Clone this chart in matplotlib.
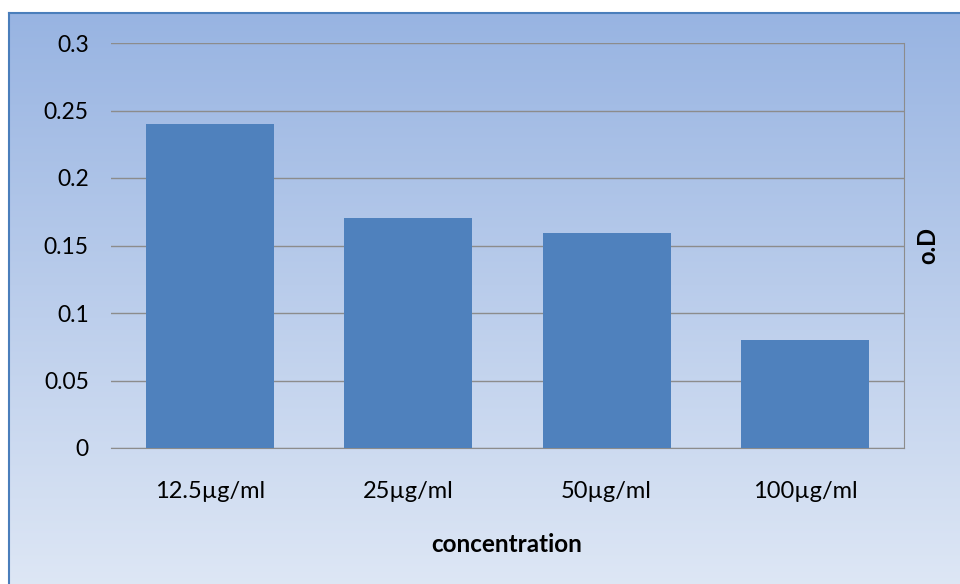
import numpy as np
from matplotlib import pyplot as plt

categories = ["12.5µg/ml", "25µg/ml", "50µg/ml", "100µg/ml"]
od_values = [0.24, 0.17, 0.159, 0.08]
yticks = [0, 0.05, 0.1, 0.15, 0.2, 0.25, 0.3]
ytick_labels = ["0", "0.05", "0.1", "0.15", "0.2", "0.25", "0.3"]

plt.rcParams['font.family'] = ['Lato', 'DejaVu Sans']

W, H = 960, 584
fig = plt.figure(figsize=(W / 100, H / 100), dpi=100)
fig.patch.set_facecolor("white")

# gradient background of the chart frame
bg = fig.add_axes([9 / W, -0.01, 1 - 9 / W + 0.01, 1 - 13 / H + 0.01])
top = np.array([152, 180, 226]) / 255
bot = np.array([222, 231, 245]) / 255
t = np.linspace(0, 1, 256)[:, None]
grad = (top * (1 - t) + bot * t)[:, None, :]
bg.imshow(grad, aspect="auto", extent=[0, 1, 0, 1])
bg.set_xticks([])
bg.set_yticks([])
for s in ["right", "bottom"]:
    bg.spines[s].set_visible(False)
for s in ["left", "top"]:
    bg.spines[s].set_color("#4a7ebb")
    bg.spines[s].set_linewidth(1.5)
bg.set_zorder(-1)

ax = fig.add_axes([111 / W, 1 - 448 / H, (904 - 111) / W, (448 - 43) / H])
ax.patch.set_alpha(0)
x = np.arange(len(categories))
ax.bar(x, od_values, width=0.646, color="#4f81bd", zorder=3)
ax.set_xlim(-0.5, len(categories) - 0.5)
ax.set_ylim(0, 0.3)
ax.set_yticks(yticks)
ax.set_yticklabels(ytick_labels)
ax.set_xticks(x)
ax.set_xticklabels(categories)
ax.tick_params(axis="y", length=0, pad=16, labelsize=16.5)
ax.tick_params(axis="x", length=0, pad=24, labelsize=17)
ax.grid(axis="y", color="#8c8c8c", linewidth=1, zorder=1)
ax.spines["left"].set_visible(False)
ax.spines["top"].set_visible(False)
ax.spines["right"].set_color("#8c8c8c")
ax.spines["bottom"].set_color("#8c8c8c")

fig.text(507 / W, 1 - 545 / H, "concentration", ha="center", va="center",
         fontsize=17.5, fontweight="bold")
fig.text(928 / W, 1 - 245 / H, "o.D", ha="center", va="center",
         rotation=90, fontsize=17, fontweight="bold")

fig.savefig("out.png", dpi=100)
